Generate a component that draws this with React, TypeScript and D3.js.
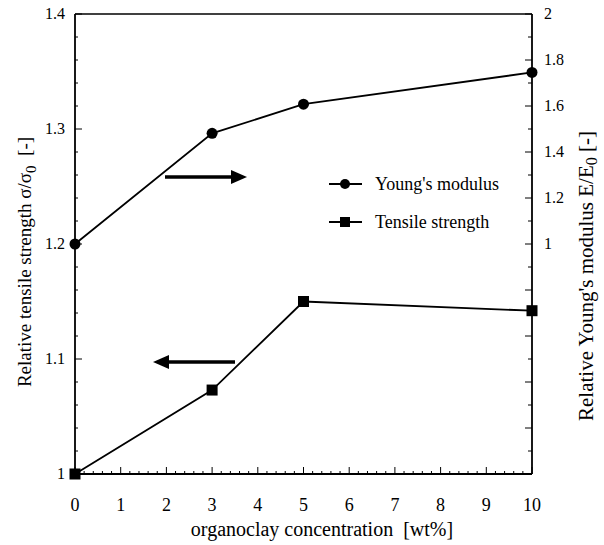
import React from "react";
import * as d3 from "d3";

// organoclay concentration [wt%]
const concentration = [0, 3, 5, 10];
// relative Young's modulus E/E0 (right axis)
const youngsModulus = [1.0, 1.481, 1.608, 1.746];
// relative tensile strength σ/σ0 (left axis)
const tensileStrength = [1.0, 1.073, 1.15, 1.142];

const xTicks = [0, 1, 2, 3, 4, 5, 6, 7, 8, 9, 10];
const leftTicks = [1, 1.1, 1.2, 1.3, 1.4];
const rightTicks = [1, 1.2, 1.4, 1.6, 1.8, 2];

const W = 604;
const H = 545;
const left = 75;
const right = 532;
const top = 14;
const bottom = 474;
const font = '"Liberation Serif"';

export default function App() {
  const x = d3.scaleLinear().domain([0, 10]).range([left, right]);
  const yL = d3.scaleLinear().domain([1, 1.4]).range([bottom, top]);
  const yR = d3.scaleLinear().domain([0, 2]).range([bottom, top]);

  const lineYoung = d3
    .line<number>()
    .x((_, i) => x(concentration[i]))
    .y((d) => yR(d));
  const lineTensile = d3
    .line<number>()
    .x((_, i) => x(concentration[i]))
    .y((d) => yL(d));

  const xMinor = d3.range(0, 10.001, 0.2);
  const leftMinor = d3.range(1, 1.4001, 0.02);
  const rightMinor = d3.range(0, 2.001, 0.1);

  const arrowHead = (tipX: number, y: number, dir: number) =>
    `M${tipX},${y} L${tipX - dir * 16},${y - 7} L${tipX - dir * 16},${y + 7} Z`;

  const txt = { fontFamily: font } as React.CSSProperties;

  return (
    <svg
      width={W}
      height={H}
      style={{ position: "absolute", left: 0, top: 0, background: "#fff" }}
    >
      {/* frame */}
      <line x1={left} x2={right} y1={top} y2={top} stroke="#000" strokeWidth={1.5} />
      <line x1={left} x2={right} y1={bottom} y2={bottom} stroke="#000" strokeWidth={1.8} />
      <line x1={left} x2={left} y1={top} y2={bottom} stroke="#000" strokeWidth={1.8} />
      <line x1={right} x2={right} y1={top} y2={bottom} stroke="#000" strokeWidth={1.8} />

      {/* x ticks */}
      {xMinor.map((v, i) => {
        const major = Math.abs(v - Math.round(v)) < 1e-6;
        return (
          <line
            key={"xm" + i}
            x1={x(v)}
            x2={x(v)}
            y1={bottom}
            y2={bottom - (major ? 7 : 3)}
            stroke="#000"
            strokeWidth={1}
          />
        );
      })}
      {xTicks.map((v) => (
        <text key={"xt" + v} x={x(v)} y={511} textAnchor="middle" fontSize={18} style={txt}>
          {v}
        </text>
      ))}

      {/* left ticks */}
      {leftMinor.map((v, i) => {
        const major = i % 5 === 0;
        return (
          <line
            key={"lm" + i}
            x1={left}
            x2={left + (major ? 7 : 3)}
            y1={yL(v)}
            y2={yL(v)}
            stroke="#000"
            strokeWidth={1}
          />
        );
      })}
      {leftTicks.map((v) => (
        <text key={"lt" + v} x={65} y={yL(v) + 5} textAnchor="end" fontSize={16} style={txt}>
          {v === 1 ? "1" : v.toFixed(1)}
        </text>
      ))}

      {/* right ticks */}
      {rightMinor.map((v, i) => {
        const major = i % 2 === 0;
        return (
          <line
            key={"rm" + i}
            x1={right}
            x2={right - (major ? 7 : 4)}
            y1={yR(v)}
            y2={yR(v)}
            stroke="#000"
            strokeWidth={1}
          />
        );
      })}
      {rightTicks.map((v) => (
        <text key={"rt" + v} x={544} y={yR(v) + 5} textAnchor="start" fontSize={16} style={txt}>
          {v === 1 || v === 2 ? String(v) : v.toFixed(1)}
        </text>
      ))}

      {/* series */}
      <path d={lineYoung(youngsModulus) || ""} fill="none" stroke="#000" strokeWidth={1.8} />
      <path d={lineTensile(tensileStrength) || ""} fill="none" stroke="#000" strokeWidth={1.8} />
      {youngsModulus.map((v, i) => (
        <circle key={"yc" + i} cx={x(concentration[i])} cy={yR(v)} r={5.5} fill="#000" />
      ))}
      {tensileStrength.map((v, i) => (
        <rect
          key={"ts" + i}
          x={x(concentration[i]) - 5.5}
          y={yL(v) - 5.5}
          width={11}
          height={11}
          fill="#000"
        />
      ))}

      {/* axis pointers */}
      <line x1={165} x2={234} y1={177} y2={177} stroke="#000" strokeWidth={3.5} />
      <path d={arrowHead(247, 177, 1)} fill="#000" />
      <line x1={166} x2={235} y1={362} y2={362} stroke="#000" strokeWidth={3.5} />
      <path d={arrowHead(153, 362, -1)} fill="#000" />

      {/* legend */}
      <line x1={329} x2={362} y1={184} y2={184} stroke="#000" strokeWidth={1.8} />
      <circle cx={345} cy={184} r={5} fill="#000" />
      <text x={375} y={190} fontSize={18} style={txt}>Young's modulus</text>
      <line x1={329} x2={362} y1={222} y2={222} stroke="#000" strokeWidth={1.8} />
      <rect x={340} y={217} width={10} height={10} fill="#000" />
      <text x={375} y={228} fontSize={18} style={txt}>Tensile strength</text>

      {/* axis titles */}
      <text x={322} y={536} textAnchor="middle" fontSize={20} style={txt}>
        organoclay concentration{"\u00a0\u00a0"}[wt%]
      </text>
      <text
        transform={`translate(31,262) rotate(-90)`}
        textAnchor="middle"
        fontSize={19}
        style={txt}
      >
        Relative tensile strength σ/σ
        <tspan fontSize={15} dy={5}>0</tspan>
        <tspan dy={-5}>{"\u00a0\u00a0"}[-]</tspan>
      </text>
      <text
        transform={`translate(593,276) rotate(-90)`}
        textAnchor="middle"
        fontSize={21}
        style={txt}
      >
        Relative Young's modulus E/E
        <tspan fontSize={16} dy={4}>0</tspan>
        <tspan dy={-4}>{"\u00a0"}[-]</tspan>
      </text>
    </svg>
  );
}
